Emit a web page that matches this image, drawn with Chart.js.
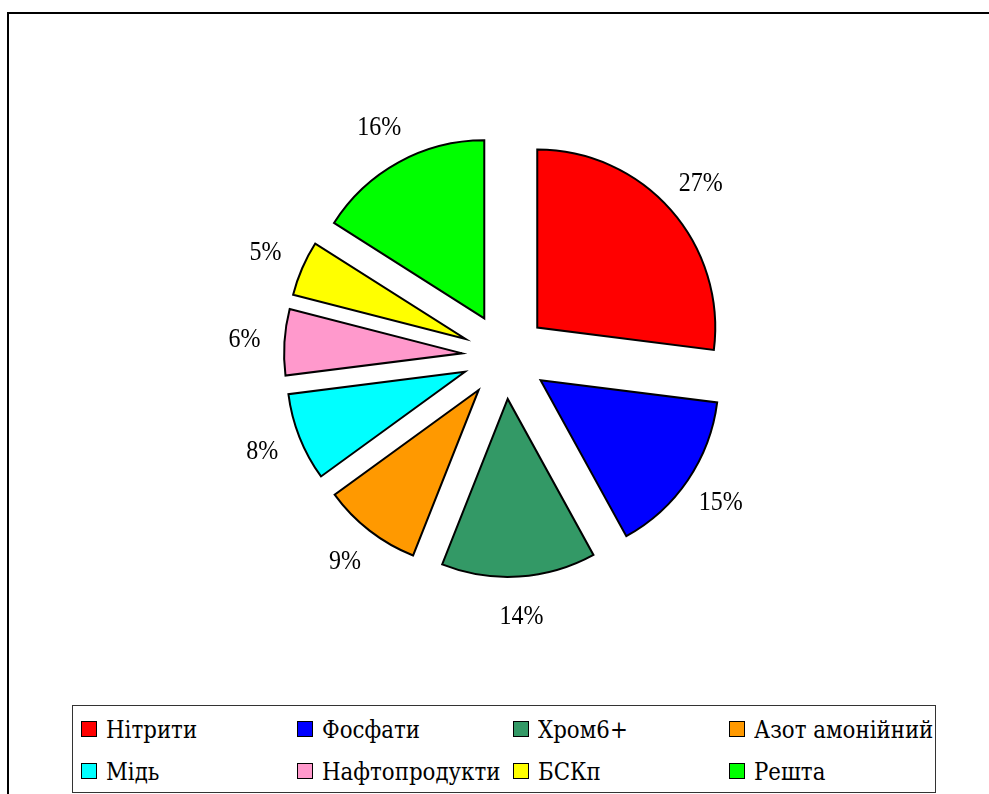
<!DOCTYPE html>
<html lang="uk">
<head>
<meta charset="utf-8">
<script src="https://cdn.jsdelivr.net/npm/chart.js@4/dist/chart.umd.min.js"></script>
<style>
  html, body { margin: 0; padding: 0; background: #fff; }
  body { width: 989px; height: 794px; position: relative; overflow: hidden; }
  #frame { position: absolute; left: 7px; top: 12px; width: 1000px; height: 800px; border-left: 2px solid #000; border-top: 2px solid #000; box-sizing: border-box; }
  #pie { position: absolute; left: 0; top: 0; }
  #legend { position: absolute; left: 72px; top: 705px; width: 864px; height: 88px; border: 1px solid #333; box-sizing: border-box; background: #fff; }
  .item { position: absolute; display: flex; align-items: center; height: 30px; font-family: 'DejaVu Serif', serif; font-size: 22px; color: #000; white-space: nowrap; }
  .swatch { width: 14px; height: 14px; border: 1.5px solid #000; margin-right: 9px; flex: none; }
  .item span { display: inline-block; transform-origin: left center; transform: scale(0.97, 1.08); }
</style>
</head>
<body>
<div id="frame"></div>
<canvas id="pie" width="989" height="794"></canvas>
<div id="legend"></div>
<script>
const categories = ['Нітрити', 'Фосфати', 'Хром6+', 'Азот амонійний', 'Мідь', 'Нафтопродукти', 'БСКп', 'Решта'];
const shares = [27, 15, 14, 9, 8, 6, 5, 16];
const colors = ['#FF0000', '#0000FF', '#339966', '#FF9900', '#00FFFF', '#FF99CC', '#FFFF00', '#00FF00'];

const EXPLODE = 43;     // every slice pulled out by the same distance
const LABEL_GAP = 40;   // percentage labels sit this far past the rim

// draw slices shifted along their mid angle, same distance for all
const explodePlugin = {
  id: 'explode',
  beforeDatasetDraw(chart, args) {
    const ctx = chart.ctx;
    args.meta.data.forEach(arc => {
      const mid = (arc.startAngle + arc.endAngle) / 2;
      ctx.save();
      ctx.translate(Math.cos(mid) * EXPLODE, Math.sin(mid) * EXPLODE);
      arc.draw(ctx);
      ctx.restore();
    });
    return false;
  }
};

const percentLabels = {
  id: 'percentLabels',
  afterDatasetsDraw(chart) {
    const ctx = chart.ctx;
    const meta = chart.getDatasetMeta(0);
    ctx.save();
    ctx.font = '24px "Liberation Serif", serif';
    ctx.fillStyle = '#000';
    ctx.textAlign = 'center';
    ctx.textBaseline = 'middle';
    meta.data.forEach((arc, i) => {
      const mid = (arc.startAngle + arc.endAngle) / 2;
      const r = EXPLODE + arc.outerRadius + LABEL_GAP;
      const x = arc.x + Math.cos(mid) * r;
      const y = arc.y + Math.sin(mid) * r;
      ctx.save();
      ctx.translate(x, y);
      ctx.scale(1, 1.15);
      ctx.fillText(shares[i] + '%', 0, 0);
      ctx.restore();
    });
    ctx.restore();
  }
};

new Chart(document.getElementById('pie'), {
  type: 'pie',
  data: {
    labels: categories,
    datasets: [{
      data: shares,
      backgroundColor: colors,
      borderColor: '#000',
      borderWidth: 2,
      hoverBorderWidth: 2,
      borderJoinStyle: 'miter'
    }]
  },
  options: {
    responsive: false,
    animation: false,
    events: [],
    layout: { padding: { left: 326, top: 177, right: 305, bottom: 259 } },
    plugins: {
      legend: { display: false },
      tooltip: { enabled: false }
    }
  },
  plugins: [explodePlugin, percentLabels]
});

// legend: 4 columns x 2 rows inside a bordered box
const legend = document.getElementById('legend');
categories.forEach((name, i) => {
  const col = i % 4, row = Math.floor(i / 4);
  const item = document.createElement('div');
  item.className = 'item';
  item.style.left = (8 + col * 216) + 'px';
  item.style.top = (8 + row * 42) + 'px';
  item.innerHTML = `<div class="swatch" style="background:${colors[i]}"></div><span>${name}</span>`;
  legend.appendChild(item);
});
</script>
</body>
</html>
